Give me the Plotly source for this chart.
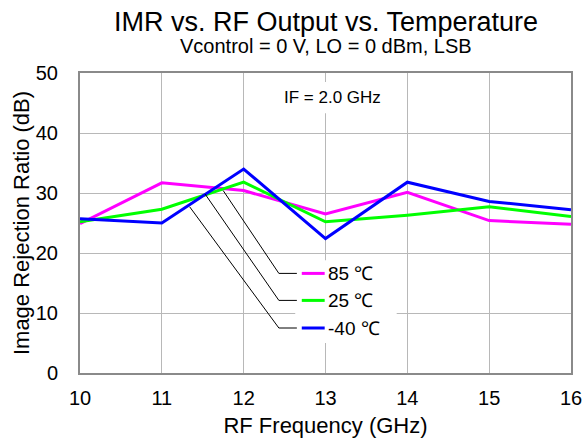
import plotly.graph_objects as go

# RF frequency sweep (GHz) and image rejection ratio (dB) per temperature
freq_ghz = [10, 11, 12, 13, 14, 15, 16]
imr_85c = [24.9, 31.7, 30.4, 26.5, 30.1, 25.4, 24.8]
imr_25c = [25.2, 27.3, 31.8, 25.2, 26.3, 27.7, 26.1]
imr_m40c = [25.7, 25.0, 34.0, 22.4, 31.8, 28.6, 27.2]

series_names = ["85 \u2103", "25 \u2103", "-40 \u2103"]
series_colors = ["#ff00ff", "#00ff00", "#0000ff"]
series_values = [imr_85c, imr_25c, imr_m40c]

FONT = "Liberation Sans, Arial, sans-serif"
GRID = "#b8b8b8"
FRAME = "#8a8a8a"

fig = go.Figure()
for name, color, vals in zip(series_names, series_colors, series_values):
    fig.add_trace(
        go.Scatter(
            x=freq_ghz,
            y=vals,
            mode="lines",
            name=name,
            line=dict(color=color, width=3),
            showlegend=False,
        )
    )

shapes = []
annotations = []

# white boxes behind the "IF" label and the callout legend (hide the grid)
shapes.append(dict(type="rect", xref="x", yref="y", x0=12.1, x1=13.9, y0=43.3, y1=48.5,
                   fillcolor="white", line=dict(width=0), layer="between"))
shapes.append(dict(type="rect", xref="x", yref="y", x0=12.63, x1=13.87, y0=5.0, y1=18.8,
                   fillcolor="white", line=dict(width=0), layer="between"))

# callout legend: leader line from the curve, short colour sample, label
leader_start = [(11.75, 30.4), (11.53, 29.8), (11.34, 27.7)]
legend_y = [16.6, 12.1, 7.5]
for (sx, sy), ly, name, color in zip(leader_start, legend_y, series_names, series_colors):
    shapes.append(dict(type="path", xref="x", yref="y",
                       path=f"M {sx},{sy} L 12.43,{ly} L 12.65,{ly}",
                       line=dict(color="black", width=1), layer="above"))
    shapes.append(dict(type="line", xref="x", yref="y", x0=12.71, x1=12.99, y0=ly, y1=ly,
                       line=dict(color=color, width=3), layer="above"))
    annotations.append(dict(x=13.01, y=ly, xref="x", yref="y", text=name, showarrow=False,
                            xanchor="left", yanchor="middle",
                            font=dict(family=FONT, size=19, color="black")))

annotations.append(dict(x=13.09, y=45.9, xref="x", yref="y", text="IF = 2.0 GHz",
                        showarrow=False, xanchor="center", yanchor="middle",
                        font=dict(family=FONT, size=17, color="black")))

# title and subtitle
annotations.append(dict(x=0.5, y=1.17, xref="paper", yref="paper",
                        text="IMR vs. RF Output vs. Temperature", showarrow=False,
                        xanchor="center", yanchor="middle",
                        font=dict(family=FONT, size=27, color="black")))
annotations.append(dict(x=0.5, y=1.09, xref="paper", yref="paper",
                        text="Vcontrol = 0 V, LO = 0 dBm, LSB", showarrow=False,
                        xanchor="center", yanchor="middle",
                        font=dict(family=FONT, size=20, color="black")))

fig.update_layout(
    width=585,
    height=442,
    margin=dict(l=80, r=14, t=73, b=69),
    paper_bgcolor="white",
    plot_bgcolor="white",
    font=dict(family=FONT, size=20, color="black"),
    shapes=shapes,
    annotations=annotations,
)

fig.update_xaxes(
    range=[10, 16],
    dtick=1,
    showgrid=True,
    gridcolor=GRID,
    gridwidth=1,
    showline=True,
    linecolor=FRAME,
    linewidth=2,
    mirror=True,
    ticks="",
    ticklabelstandoff=6,
    ticklabeloverflow="allow",
    automargin=False,
    zeroline=False,
    tickfont=dict(family=FONT, size=20),
    title=dict(text="RF Frequency (GHz)", font=dict(family=FONT, size=22), standoff=10),
)
fig.update_yaxes(
    range=[0, 50],
    dtick=10,
    showgrid=True,
    gridcolor=GRID,
    gridwidth=1,
    showline=True,
    linecolor=FRAME,
    linewidth=2,
    mirror=True,
    ticks="",
    ticklabelstandoff=16,
    automargin=False,
    zeroline=False,
    tickfont=dict(family=FONT, size=20),
    title=dict(text="Image Rejection Ratio (dB)", font=dict(family=FONT, size=22), standoff=0),
)

# drop the default page margin so the 585x442 figure fills the window exactly
fig.write_html(
    "out.html",
    config={"displayModeBar": False},
    post_script="document.body.style.margin='0';document.body.style.overflow='hidden';",
)
